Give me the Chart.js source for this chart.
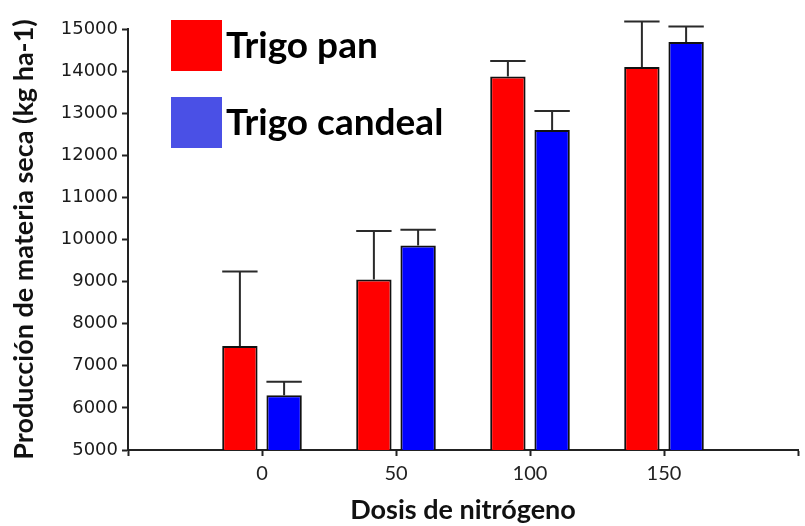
<!DOCTYPE html>
<html>
<head>
<meta charset="utf-8">
<script src="https://cdn.jsdelivr.net/npm/chart.js@4/dist/chart.umd.min.js"></script>
<style>
  html, body { margin: 0; padding: 0; background: #fff; }
  #wrap { width: 805px; height: 526px; }
</style>
</head>
<body>
<div id="wrap"><canvas id="chart" width="805" height="526"></canvas></div>
<script>
// dosis de nitrógeno (empty slots at both ends leave the gaps seen in the original)
const dosis = ["", "0", "50", "100", "150", ""];

const trigoPan = [null, 7470, 9050, 13870, 14100, null];
const trigoPanErr = [null, 1770, 1150, 370, 1080, null];

const trigoCandeal = [null, 6300, 9860, 12600, 14690, null];
const trigoCandealErr = [null, 320, 370, 450, 370, null];

const seriesNames = ["Trigo pan", "Trigo candeal"];
const legendColors = ["#ff0000", "#4a50e6"];

// error bars: upward only, cap as wide as the bar
const errorBars = {
  id: "errorBars",
  afterDatasetsDraw(chart) {
    const ctx = chart.ctx;
    const y = chart.scales.y;
    ctx.save();
    ctx.strokeStyle = "#2a2a2a";
    ctx.lineWidth = 2;
    chart.data.datasets.forEach((ds, i) => {
      const meta = chart.getDatasetMeta(i);
      meta.data.forEach((bar, j) => {
        const v = ds.data[j];
        const e = ds.errors[j];
        if (v == null || e == null) return;
        const yTop = y.getPixelForValue(v + e);
        const half = bar.width / 2;
        ctx.beginPath();
        ctx.moveTo(bar.x, bar.y);
        ctx.lineTo(bar.x, yTop);
        ctx.moveTo(bar.x - half, yTop);
        ctx.lineTo(bar.x + half, yTop);
        ctx.stroke();
      });
    });
    ctx.restore();
  }
};

// legend drawn inside the plot, big squares + bold text
const boxLegend = {
  id: "boxLegend",
  afterDraw(chart) {
    const ctx = chart.ctx;
    ctx.save();
    ctx.font = "bold 37px Lato";
    ctx.textBaseline = "middle";
    chart.data.datasets.forEach((ds, i) => {
      const top = 20 + i * 77;
      ctx.fillStyle = legendColors[i];
      ctx.fillRect(171, top, 51, 51);
      ctx.fillStyle = "#000";
      ctx.fillText(ds.label, 226, top + 26);
    });
    ctx.restore();
  }
};

new Chart(document.getElementById("chart"), {
  type: "bar",
  data: {
    labels: dosis,
    datasets: [
      {
        label: seriesNames[0],
        data: trigoPan,
        errors: trigoPanErr,
        backgroundColor: "#ff0000",
        borderColor: "#111",
        borderWidth: 2,
        borderSkipped: false
      },
      {
        label: seriesNames[1],
        data: trigoCandeal,
        errors: trigoCandealErr,
        backgroundColor: "#0000ff",
        borderColor: "#111",
        borderWidth: 2,
        borderSkipped: false
      }
    ]
  },
  options: {
    responsive: false,
    animation: false,
    categoryPercentage: 0.66,
    barPercentage: 0.8,
    layout: { padding: { top: 29, right: 7, left: 8, bottom: 0 } },
    plugins: {
      legend: { display: false },
      tooltip: { enabled: false }
    },
    scales: {
      x: {
        offset: false,
        border: { color: "#222", width: 2 },
        grid: { offset: false, drawOnChartArea: false, tickLength: 6, tickColor: "#222", tickWidth: 2 },
        ticks: { color: "#222", font: { family: "Lato", size: 20 }, padding: 6, maxRotation: 0, autoSkip: false },
        title: {
          display: true,
          text: "Dosis de nitrógeno",
          color: "#111",
          font: { family: "Lato", size: 27, weight: "bold" },
          padding: { top: 0, bottom: 0 }
        },
        afterFit(scale) { scale.height = 76; }
      },
      y: {
        min: 5000,
        max: 15000,
        border: { color: "#222", width: 2 },
        grid: { drawOnChartArea: false, tickLength: 6, tickColor: "#222", tickWidth: 2 },
        ticks: {
          stepSize: 1000,
          color: "#1a1a1a",
          font: { family: "'DejaVu Sans'", size: 18 },
          padding: 4,
          callback: (v) => String(v)
        },
        title: {
          display: true,
          text: "Producción de materia seca (kg ha-1)",
          color: "#111",
          font: { family: "Lato", size: 27, weight: "bold" },
          padding: { top: 0, bottom: 0 }
        },
        afterFit(scale) { scale.width = 120; }
      }
    }
  },
  plugins: [errorBars, boxLegend]
});
</script>
</body>
</html>
